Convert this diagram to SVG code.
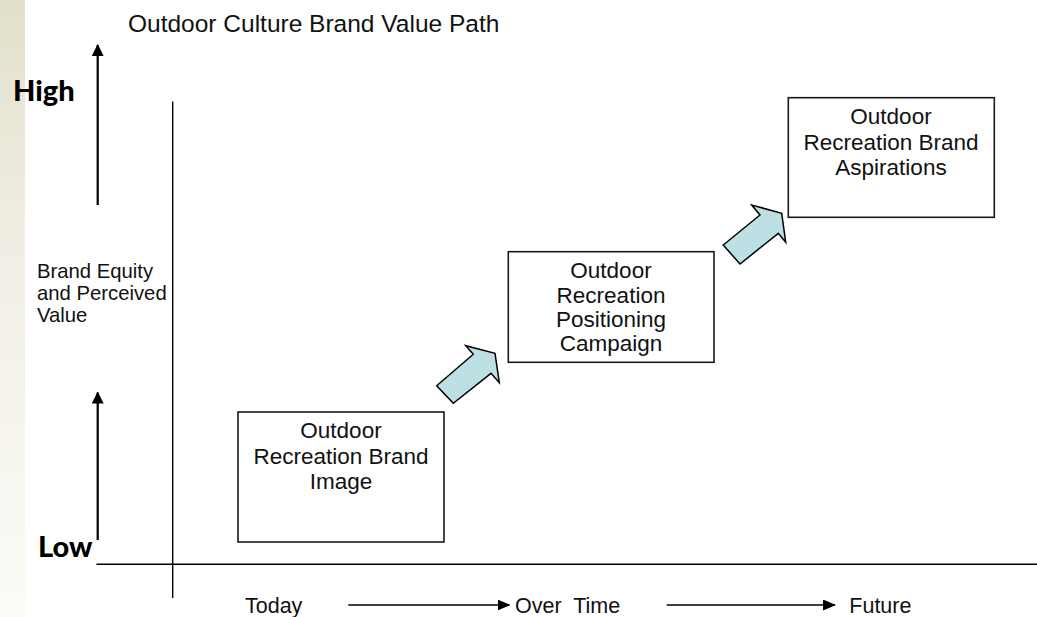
<svg xmlns="http://www.w3.org/2000/svg" width="1037" height="617" viewBox="0 0 1037 617">
  <defs>
    <linearGradient id="strip" x1="0" y1="0" x2="0" y2="1">
      <stop offset="0" stop-color="#e2dfc9"/>
      <stop offset="0.35" stop-color="#efede2"/>
      <stop offset="1" stop-color="#fcfbf7"/>
    </linearGradient>
    <!-- filled triangular arrowhead drawn along +x, rotated by the line direction -->
    <marker id="tip" viewBox="0 0 13 11" refX="12" refY="5.5" markerWidth="13" markerHeight="11" markerUnits="userSpaceOnUse" orient="auto">
      <path d="M0,0 L13,5.5 L0,11 Z" fill="#000"/>
    </marker>
    <marker id="tipBig" viewBox="0 0 12 12" refX="11" refY="6" markerWidth="12" markerHeight="12" markerUnits="userSpaceOnUse" orient="auto">
      <path d="M0,0 L12,6 L0,12 Z" fill="#000"/>
    </marker>
  </defs>
  <style>
    .txt { font-family: "Liberation Sans", Arial, sans-serif; fill: #111; }
    .box { fill: #fff; stroke: #1a1a1a; stroke-width: 1.6; }
    .boxtxt { font-size: 22.5px; text-anchor: middle; }
    .side { font-size: 20.3px; }
    .time-txt { font-size: 21.5px; }
    .big { font-family: Lato, "Liberation Sans", sans-serif; font-weight: 900; font-size: 29px; fill: #000; }
    .block { fill: #bde0e4; stroke: #000; stroke-width: 1.5; stroke-linejoin: miter; }
    .axis { stroke: #000; stroke-width: 1.4; fill: none; }
    .up { stroke: #000; stroke-width: 2.2; fill: none; marker-end: url(#tipBig); }
    .time { stroke: #000; stroke-width: 1.6; fill: none; marker-end: url(#tip); }
  </style>

  <rect x="0" y="0" width="25" height="617" fill="url(#strip)"/>
  <rect x="25" y="0" width="1012" height="617" fill="#fff"/>

  <text class="txt" x="128" y="31.5" font-size="24.5">Outdoor Culture Brand Value Path</text>

  <text class="big" x="13" y="100.5">High</text>
  <text class="big" x="38" y="556.5">Low</text>

  <text class="txt side" x="37" y="277.5">Brand Equity</text>
  <text class="txt side" x="37" y="299.5">and Perceived</text>
  <text class="txt side" x="37" y="321.5">Value</text>

  <g id="connectors">
    <line class="axis" x1="172.7" y1="101.5" x2="172.7" y2="598"/>
    <line class="axis" x1="96.5" y1="564.3" x2="1037" y2="564.3"/>
    <line class="up" x1="97.7" y1="205" x2="97.7" y2="45"/>
    <line class="up" x1="97.7" y1="540" x2="97.7" y2="392.5"/>
    <line class="time" x1="348.3" y1="605" x2="509.5" y2="605"/>
    <line class="time" x1="666.7" y1="605" x2="835" y2="605"/>
    <polygon id="step-arrow-1" class="block" points="436.7,385.7 473.3,354.3 465.7,345.7 495,353.3 499.3,382.7 491,373.3 453.3,403.3"/>
    <polygon id="step-arrow-2" class="block" points="723.3,245 760,215 751.7,205 781.7,213.3 785.7,242.3 778.3,233.3 740,264"/>
  </g>

  <g id="brand-image">
    <rect class="box" x="238" y="412" width="206" height="130"/>
    <text class="txt boxtxt" x="341" y="438.3">Outdoor</text>
    <text class="txt boxtxt" x="341" y="464">Recreation Brand</text>
    <text class="txt boxtxt" x="341" y="488.5">Image</text>
  </g>

  <g id="positioning-campaign">
    <rect class="box" x="508.3" y="251.7" width="205.7" height="110.6"/>
    <text class="txt boxtxt" x="611" y="278.3">Outdoor</text>
    <text class="txt boxtxt" x="611" y="303">Recreation</text>
    <text class="txt boxtxt" x="611" y="327.3">Positioning</text>
    <text class="txt boxtxt" x="611" y="351.3">Campaign</text>
  </g>

  <g id="brand-aspirations">
    <rect class="box" x="788.3" y="97.7" width="206" height="119.6"/>
    <text class="txt boxtxt" x="891" y="124">Outdoor</text>
    <text class="txt boxtxt" x="891" y="150">Recreation Brand</text>
    <text class="txt boxtxt" x="891" y="175">Aspirations</text>
  </g>

  <g id="time-labels">
    <text class="txt time-txt" x="245" y="612.5">Today</text>
    <text class="txt time-txt" x="515" y="612.5" xml:space="preserve">Over  Time</text>
    <text class="txt time-txt" x="849.3" y="612.5">Future</text>
  </g>
</svg>
